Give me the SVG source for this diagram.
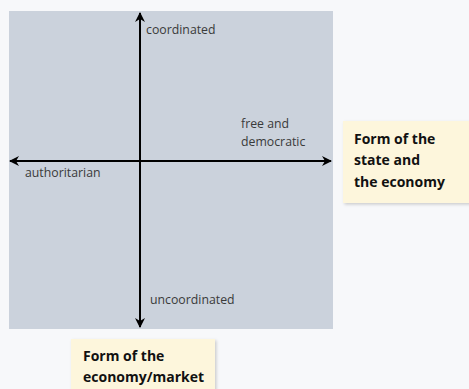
<svg xmlns="http://www.w3.org/2000/svg" width="469" height="389" viewBox="0 0 469 389">
<defs>
<style>
.lbl{font-family:"Open Sans","Noto Sans",sans-serif;font-size:12.3px;fill:#3a3a3a}
.box{fill:#fdf6dc}
.bt{font-family:"Open Sans","Noto Sans",sans-serif;font-size:14px;font-weight:bold;fill:#111}
.ax{stroke:#000;stroke-width:2;fill:none}
</style>
<filter id="sh" x="-10%" y="-10%" width="130%" height="130%">
<feDropShadow dx="1.5" dy="1.5" stdDeviation="1.5" flood-color="#000" flood-opacity="0.18"/>
</filter>
<marker id="ah" viewBox="0 0 10 10" refX="9" refY="5" markerWidth="10" markerHeight="10" markerUnits="userSpaceOnUse" orient="auto-start-reverse">
<path d="M0,0 L10,5 L0,10 L3,5 Z" fill="#000"/>
</marker>
</defs>
<rect width="469" height="389" fill="#f7f8fa"/>
<rect id="panel" x="9" y="11" width="324" height="318" fill="#cbd2dc"/>
<g id="connectors">
<line class="ax" x1="140" y1="13" x2="140" y2="327" marker-start="url(#ah)" marker-end="url(#ah)"/>
<line class="ax" x1="10" y1="161" x2="331" y2="161" marker-start="url(#ah)" marker-end="url(#ah)"/>
</g>
<g id="labels">
<text class="lbl" x="146" y="34">coordinated</text>
<text class="lbl" x="25" y="177">authoritarian</text>
<text class="lbl" x="241" y="128">free and</text>
<text class="lbl" x="241" y="146">democratic</text>
<text class="lbl" x="150" y="304">uncoordinated</text>
</g>
<g id="box-state">
<rect class="box" x="343" y="121" width="130" height="82" filter="url(#sh)"/>
<text class="bt" x="354" y="144">Form of the</text>
<text class="bt" x="354" y="165">state and</text>
<text class="bt" x="354" y="187">the economy</text>
</g>
<g id="box-market">
<rect class="box" x="71" y="339" width="144" height="55" filter="url(#sh)"/>
<text class="bt" x="83" y="361">Form of the</text>
<text class="bt" x="83" y="382">economy/market</text>
</g>
</svg>
